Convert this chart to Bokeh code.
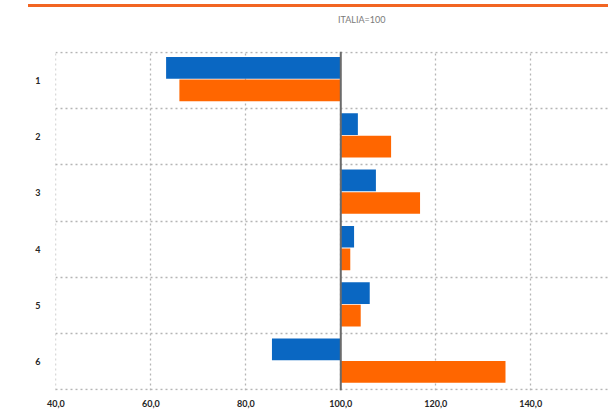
from bokeh.plotting import figure
from bokeh.models import FixedTicker, Span, Div, ColumnDataSource
from bokeh.layouts import column
from bokeh.embed import file_html
from bokeh.resources import INLINE

categories = ["1", "2", "3", "4", "5", "6"]
series_blue = [63.2, 103.6, 107.4, 102.8, 106.1, 85.5]
series_orange = [66.0, 110.6, 116.7, 102.0, 104.2, 134.7]
x_ticks = [40, 60, 80, 100, 120, 140]
x_tick_labels = ["40,0", "60,0", "80,0", "100,0", "120,0", "140,0"]
base = 100
title_text = "ITALIA=100"

n = len(categories)
centers = [n - i - 0.5 for i in range(n)]
blue_y = [c + 0.22 for c in centers]
orange_y = [c - 0.18 for c in centers]

p = figure(width=608, height=379, output_backend="svg", toolbar_location=None,
           x_range=(39.9, 156.4), y_range=(-0.01, n + 0.01),
           min_border_left=55, min_border_right=0, min_border_top=21, min_border_bottom=15,
           margin=(0, 0, 0, 0))
p.outline_line_color = None
p.background_fill_color = "white"
p.border_fill_color = "white"

src_b = ColumnDataSource(dict(y=blue_y, right=series_blue, left=[base] * n))
src_o = ColumnDataSource(dict(y=orange_y, right=series_orange, left=[base] * n))
p.hbar(y="y", left="left", right="right", height=0.385, source=src_b,
       fill_color="#0A67C2", line_color=None)
p.hbar(y="y", left="left", right="right", height=0.385, source=src_o,
       fill_color="#FF6600", line_color=None)

p.add_layout(Span(location=base, dimension="height", line_color="#6b6b6b", line_width=2))

# axes
p.xaxis.ticker = FixedTicker(ticks=x_ticks)
p.xaxis.major_label_overrides = {t: l for t, l in zip(x_ticks, x_tick_labels)}
p.yaxis.ticker = FixedTicker(ticks=centers)
p.yaxis.major_label_overrides = {c: cat for c, cat in zip(centers, categories)}
for ax in (p.xaxis, p.yaxis):
    ax.axis_line_color = None
    ax.major_tick_line_color = None
    ax.minor_tick_line_color = None
    ax.major_label_text_font = "Lato"
    ax.major_label_text_font_style = "bold"
    ax.major_label_text_font_size = "9px"
    ax.major_label_text_color = "#262626"
p.xaxis.major_label_standoff = 3
p.yaxis.major_label_standoff = 9

# grids
p.xgrid.ticker = FixedTicker(ticks=[40, 60, 80, 100, 120, 140, 160])
p.ygrid.ticker = FixedTicker(ticks=list(range(n + 1)))
for g in (p.xgrid, p.ygrid):
    g.grid_line_color = "#b5b5b5"
    g.grid_line_dash = "2 3"
    g.grid_line_width = 1.3

bar = Div(text="", width=580, height=3, margin=(4, 0, 0, 28),
          styles={"background-color": "#F26522"})
title_div = Div(text=title_text, width=120, height=23, margin=(0, 0, 0, 338),
                styles={"font-family": "Lato", "font-size": "9px", "color": "#7a7a7a",
                        "line-height": "26px", "white-space": "nowrap"})

layout = column(bar, title_div, p, spacing=0)
open("out.html", "w").write(file_html(layout, INLINE))
